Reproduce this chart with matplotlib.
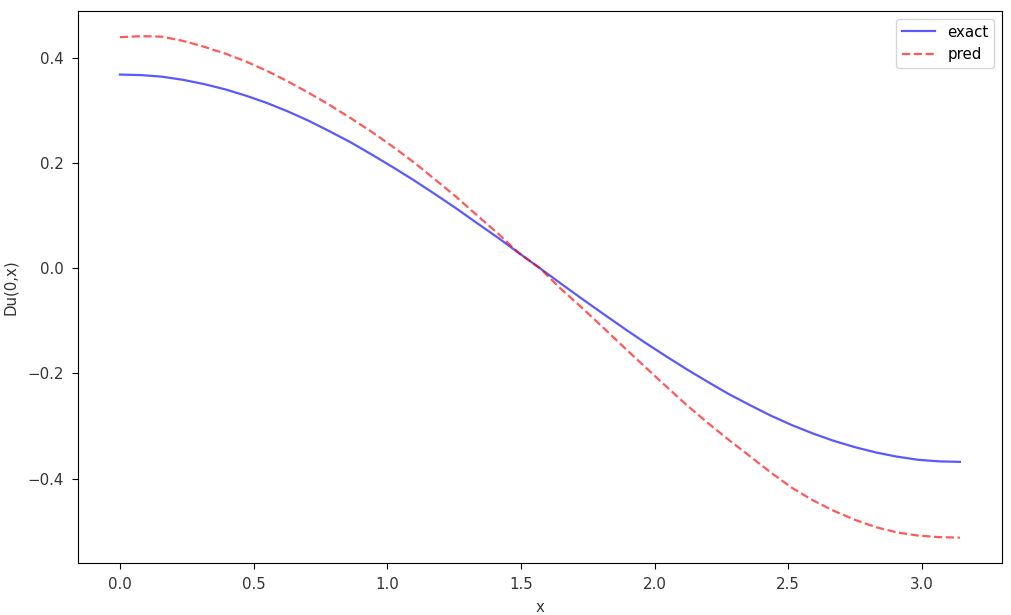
import matplotlib
matplotlib.use("Agg")
from matplotlib import pyplot as plt

# values (x from 0 to pi in 40 steps)
x_vals = [0.000, 0.079, 0.157, 0.236, 0.314, 0.393, 0.471, 0.550, 0.628, 0.707,
          0.785, 0.864, 0.942, 1.021, 1.100, 1.178, 1.257, 1.335, 1.414, 1.492,
          1.571, 1.649, 1.728, 1.806, 1.885, 1.963, 2.042, 2.120, 2.199, 2.277,
          2.356, 2.434, 2.513, 2.592, 2.670, 2.749, 2.827, 2.906, 2.985, 3.063, 3.142]
exact_vals = [0.368, 0.367, 0.364, 0.358, 0.350, 0.340, 0.328, 0.314, 0.298, 0.280,
              0.260, 0.239, 0.216, 0.192, 0.167, 0.141, 0.114, 0.086, 0.058, 0.029,
              0.000, -0.029, -0.058, -0.086, -0.114, -0.141, -0.167, -0.192, -0.216, -0.239,
              -0.260, -0.280, -0.298, -0.314, -0.328, -0.340, -0.350, -0.358, -0.364, -0.367, -0.368]
pred_vals = [0.439, 0.441, 0.440, 0.432, 0.421, 0.408, 0.393, 0.375, 0.355, 0.333,
             0.310, 0.285, 0.259, 0.231, 0.201, 0.169, 0.136, 0.101, 0.066, 0.029,
             0.000, -0.039, -0.075, -0.112, -0.150, -0.187, -0.224, -0.260, -0.294, -0.326,
             -0.357, -0.388, -0.417, -0.441, -0.461, -0.478, -0.492, -0.502, -0.508, -0.511, -0.512]

plt.rcParams["font.size"] = 10.8

fig = plt.figure(figsize=(10.12, 6.15), dpi=100)
ax = fig.add_axes([0.077, 0.085, 0.913, 0.897])
ax.plot(x_vals, exact_vals, color="blue", alpha=0.65, lw=1.6, label="exact")
ax.plot(x_vals, pred_vals, "--", color="red", alpha=0.65, lw=1.6, label="pred")
ax.tick_params(length=4, pad=6, labelcolor="#333333")
ax.set_xlabel("x", labelpad=6, color="#333333")
ax.set_ylabel("Du(0,x)", labelpad=7, color="#333333")
ax.legend(loc="upper right", handlelength=2.2)
fig.savefig("out.png", dpi=100)
